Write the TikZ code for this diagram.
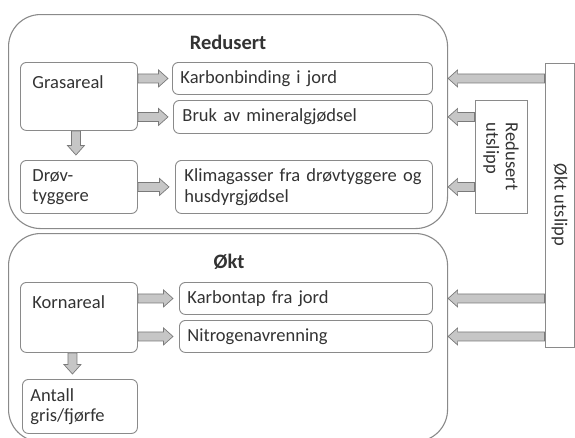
\documentclass[tikz,border=0pt]{standalone}
\usepackage{fontspec}
\setmainfont{Carlito}
\usetikzlibrary{calc}

\definecolor{boxline}{HTML}{8A8A8A}
\definecolor{txt}{HTML}{333333}
\definecolor{arrowfill}{HTML}{C6C6C6}
\definecolor{arrowline}{HTML}{7A7A7A}

\tikzset{
  panel/.style={draw=boxline, line width=1.1pt, rounded corners=32pt,
    anchor=north west, inner sep=0pt},
  cell/.style={draw=boxline, line width=0.9pt, rounded corners=6pt,
    anchor=north west, align=left, text=txt, inner ysep=0pt,
    font=\fontsize{18.5}{20.5}\selectfont},
  tall/.style={draw=boxline, line width=0.9pt, rotate=-90, inner sep=0pt,
    align=left, text=txt, font=\fontsize{18.5}{19.5}\selectfont},
  heading/.style={text=txt, font=\bfseries\fontsize{20.5}{24}\selectfont},
  % block arrow: shaft half-width 4.5pt, head half-width 8.5pt, head length 9.5pt
  fat/.style={draw=arrowline, fill=arrowfill, line width=0.7pt,
    to path={let \p1=(\tikztostart), \p2=(\tikztotarget),
      \p3=($(\p2)!9.5pt!(\p1)$) in
      ($(\p1)!4.5pt!90:(\p2)$) -- ($(\p3)!4.5pt!90:(\p2)$)
      -- ($(\p3)!8.5pt!90:(\p2)$) -- (\p2)
      -- ($(\p3)!8.5pt!-90:(\p2)$) -- ($(\p3)!4.5pt!-90:(\p2)$)
      -- ($(\p1)!4.5pt!-90:(\p2)$) -- cycle}}
}

\begin{document}
\begin{tikzpicture}[x=1pt, y=-1pt]
\useasboundingbox (0,0) rectangle (575,437);

% the two panels
\node[panel, minimum width=439, minimum height=214] (upper) at (8,14) {};
\node[panel, minimum width=439, minimum height=208] (lower) at (8,233) {};

\node[heading] (tred) at (228,42) {Redusert};
\node[heading] (tokt) at (229,262) {Økt};

% upper panel
\node[cell, inner xsep=12pt, text width=93pt, text height=20pt, text depth=36pt,
      inner ysep=6pt] (gras) at (20,62) {Grasareal};
\node[cell, inner xsep=8pt, text width=244pt, minimum height=32] (karbon) at (172,62)
      {Karbonbinding i jord};
\node[cell, inner xsep=9pt, text width=241pt, minimum height=33] (bruk) at (173,100)
      {Bruk av mineralgjødsel};
\node[cell, inner xsep=12pt, text width=93pt, minimum height=53] (droev) at (20,160)
      {Drøv-\\tyggere};
\node[cell, inner xsep=9pt, text width=239pt, minimum height=53] (klima) at (175,160)
      {Klimagasser fra drøvtyggere og\\husdyrgjødsel};

% lower panel
\node[cell, inner xsep=12pt, text width=93pt, text height=20pt, text depth=38pt,
      inner ysep=6pt] (korn) at (20,282) {Kornareal};
\node[cell, inner xsep=8pt, text width=237pt, minimum height=32] (tap) at (179,282)
      {Karbontap fra jord};
\node[cell, inner xsep=8pt, text width=237pt, minimum height=32] (nitro) at (179,320)
      {Nitrogenavrenning};
\node[cell, inner xsep=8pt, text width=99pt, minimum height=54] (antall) at (22,379)
      {Antall\\gris/fjørfe};

% emission boxes on the right
\node[tall, minimum width=113, minimum height=52] (redut) at (501,156.5)
      {Redusert\\utslipp};
\node[tall, minimum width=284, minimum height=29] (oekt) at (559.5,205)
      {Økt utslipp};

% arrows inside the panels
\draw[fat] (gras.east |- karbon.west) to ([xshift=-4pt]karbon.west);
\draw[fat] (gras.east |- bruk.west) to ([xshift=-5pt]bruk.west);
\draw[fat] ([xshift=-3pt]gras.south) to ([xshift=-3pt,yshift=5pt]droev.north);
\draw[fat] (droev.east |- klima.west) to ([xshift=-6pt]klima.west);
\draw[fat] (korn.east |- tap.west) to ([xshift=-6pt]tap.west);
\draw[fat] (korn.east |- nitro.west) to ([xshift=-6pt]nitro.west);
\draw[fat] ([xshift=-6.5pt]korn.south) to ([xshift=-7.5pt,yshift=5pt]antall.north);

% arrows from the emission boxes
\draw[fat] (oekt.south |- karbon.east) to (upper.east |- karbon.east);
\draw[fat] (redut.south |- bruk.east) to (upper.east |- bruk.east);
\draw[fat] (redut.south |- klima.east) to (upper.east |- klima.east);
\draw[fat] (oekt.south |- tap.east) to (lower.east |- tap.east);
\draw[fat] (oekt.south |- nitro.east) to (lower.east |- nitro.east);
\end{tikzpicture}
\end{document}
